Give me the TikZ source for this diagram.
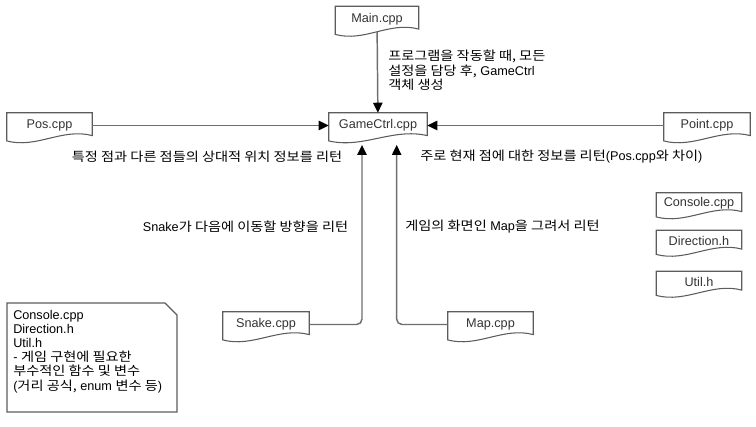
\documentclass[tikz,border=0pt]{standalone}
\usepackage{fontspec}
\setmainfont{Liberation Sans}
\newfontfamily\kr[FakeStretch=1.12]{Noto Sans CJK KR}
\usetikzlibrary{calc,arrows.meta}
\definecolor{linegray}{HTML}{6E6E6E}
\definecolor{boxgray}{HTML}{5C5C5C}

\begin{document}
\begin{tikzpicture}[x=0.75pt,y=-0.75pt,
        font=\fontsize{9.5}{11}\selectfont,
        fileline/.style={draw=boxgray,line width=0.8pt},
        file/.style={minimum height=18.75pt,inner sep=0pt,text=black!80,
            append after command={\pgfextra{
                \draw[fileline] (\tikzlastnode.north west) -- (\tikzlastnode.north east)
                    -- ([yshift=2pt]\tikzlastnode.south east)
                    .. controls ($(\tikzlastnode.south east)!0.35!(\tikzlastnode.south west)+(0pt,8pt)$)
                    and ($(\tikzlastnode.south east)!0.65!(\tikzlastnode.south west)+(0pt,-8pt)$)
                    .. ([yshift=-2pt]\tikzlastnode.south west) -- cycle;}}},
        smallfile/.style={file,minimum height=15.75pt,minimum width=63.75pt},
        link/.style={draw=linegray,line width=1.1pt,
            -{Triangle[length=7.5pt,width=7pt,color=black]}},
        note/.style={inner sep=0pt,text=black}]
                \useasboundingbox (0,0) rectangle (756,427);

                \node[file,minimum width=62.25pt] (main) at (377,19) {Main.cpp};
                \node[file,minimum width=73.5pt] (game) at (378,125.5) {GameCtrl.cpp};
                \node[file,minimum width=63.75pt] (pos) at (49.5,125.5) {Pos.cpp};
                \node[file,minimum width=64.5pt] (point) at (707,125.5) {Point.cpp};
                \node[file,minimum width=64.5pt] (snake) at (266,324.5) {Snake.cpp};
                \node[file,minimum width=63.75pt] (map) at (490.5,324.5) {Map.cpp};

                \node[smallfile] (console) at (699,203.5) {Console.cpp};
                \node[smallfile] (direction) at (699,241) {Direction.h};
                \node[smallfile] (util) at (699,282) {Util.h};

                \coordinate (snakein) at ($(game.south)+(-12pt,-5pt)$);
                \coordinate (mapin) at ($(game.south)+(14pt,-5pt)$);

                \draw[link] (main) -- (game);
                \draw[link] (pos) -- (game);
                \draw[link] (point) -- (game);
                \draw[link,rounded corners=4pt] (snake.east) -| (snakein);
                \draw[link,rounded corners=4pt] (map.west) -| (mapin);

                \node[note,anchor=north west,align=left,font=\fontsize{9.5}{8.7}\selectfont]
                    (mainnote) at (388,50) {{\kr 프로그램을 작동할 때, 모든}\\{\kr 설정을 담당 후,} GameCtrl\\{\kr 객체 생성}};
                \node[note] (posnote) at (207,157) {\kr 특정 점과 다른 점들의 상대적 위치 정보를 리턴};
                \node[note,anchor=west] (pointnote) at (420,157) {{\kr 주로 현재 점에 대한 정보를 리턴}(Pos.cpp{\kr 와 차이})};
                \node[note] (snakenote) at (245.5,227) {Snake{\kr 가 다음에 이동할 방향을 리턴}};
                \node[note] (mapnote) at (502.5,227) {{\kr 게임의 화면인} Map{\kr 을 그려서 리턴}};

                \draw[fileline] (7,303) -- (165,303) -- (177,315) -- (177,412) -- (7,412) -- cycle;
                \node[note,anchor=north west,align=left,font=\fontsize{9.5}{10.6}\selectfont]
                    (utilnote) at (13,310) {Console.cpp\\Direction.h\\Util.h\\- {\kr 게임 구현에 필요한}\\{\kr 부수적인 함수 및 변수}\\({\kr 거리 공식,} enum {\kr 변수 등})};
            \end{tikzpicture}
\end{document}
